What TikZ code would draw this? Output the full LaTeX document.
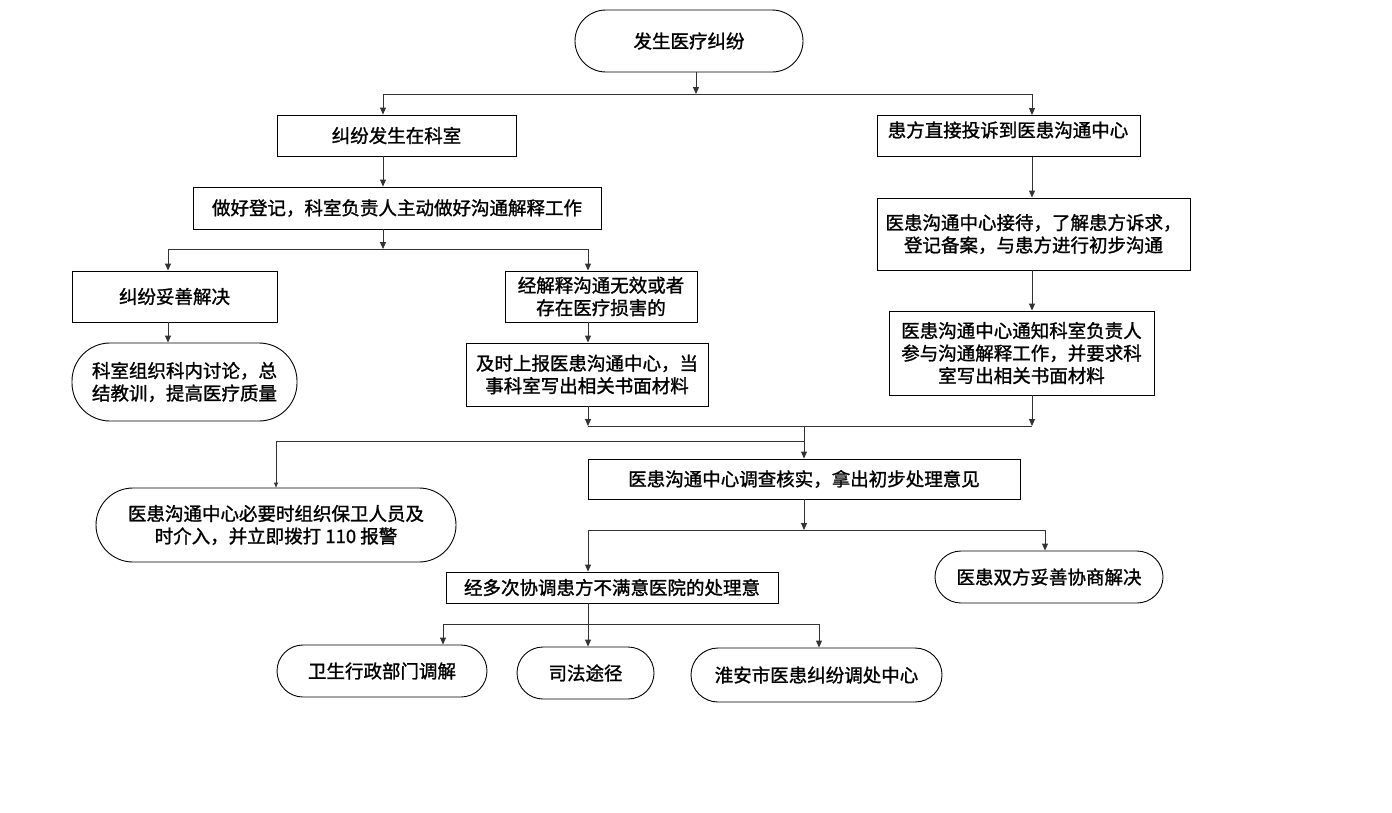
\documentclass[tikz,border=0pt]{standalone}
\usepackage{fontspec}
\newfontfamily\cjk{Noto Sans CJK SC}[FakeBold=1.3]
\usetikzlibrary{arrows.meta}
\tikzset{
  txt/.style={font=\cjk\fontsize{18.5}{22.5}\selectfont},
  box/.style={draw=black, line width=0.9pt, inner sep=0pt, align=center, txt},
  pill/.style={box, rounded corners=#1},
  conn/.style={draw=black!80, line width=0.9pt},
  arr/.style={conn, -{Triangle[length=7pt,width=6pt]}},
}
\begin{document}
\begin{tikzpicture}[x=1pt,y=-1pt]
\useasboundingbox (0,0) rectangle (1392,812);
% nodes
\node[pill=31pt, minimum width=228pt, minimum height=62pt] (top) at (689,41) {发生医疗纠纷};
\node[box, minimum width=239pt, minimum height=41pt] (A) at (396.5,135.5) {纠纷发生在科室};
\node[box, minimum width=263pt, minimum height=41pt, anchor=north west] (B) at (877,115) {};
\node[txt] (Bt) at (1008,130) {患方直接投诉到医患沟通中心};
\node[box, minimum width=408pt, minimum height=42pt] (C) at (397,208) {做好登记，科室负责人主动做好沟通解释工作};
\node[box, minimum width=205pt, minimum height=51pt] (D) at (174.5,296.5) {纠纷妥善解决};
\node[box, minimum width=192pt, minimum height=51pt] (E) at (601,296.5) {经解释沟通无效或者\\存在医疗损害的};
\node[pill=38pt, minimum width=225pt, minimum height=78pt] (F) at (184.5,382) {科室组织科内讨论，总\\结教训，提高医疗质量};
\node[box, minimum width=242pt, minimum height=63pt] (G) at (587,374.5) {及时上报医患沟通中心，当\\事科室写出相关书面材料};
\node[box, minimum width=313pt, minimum height=72pt] (H) at (1033.5,234) {医患沟通中心接待，了解患方诉求，\\登记备案，与患方进行初步沟通};
\node[box, minimum width=265pt, minimum height=84pt] (I) at (1021.5,353) {医患沟通中心通知科室负责人\\参与沟通解释工作，并要求科\\室写出相关书面材料};
\node[pill=37pt, minimum width=360pt, minimum height=74pt] (J) at (276,525) {医患沟通中心必要时组织保卫人员及\\时介入，并立即拨打 110 报警};
\node[box, minimum width=432pt, minimum height=40pt] (K) at (804,479) {医患沟通中心调查核实，拿出初步处理意见};
\node[box, minimum width=332pt, minimum height=31pt] (L) at (612,587.5) {经多次协调患方不满意医院的处理意};
\node[pill=26pt, minimum width=228pt, minimum height=52pt] (M) at (1049,577) {医患双方妥善协商解决};
\node[pill=26pt, minimum width=210pt, minimum height=52pt] (N) at (382,671) {卫生行政部门调解};
\node[pill=26pt, minimum width=137pt, minimum height=52pt] (O) at (585.5,673) {司法途径};
\node[pill=27pt, minimum width=251pt, minimum height=54pt] (P) at (816.5,675) {淮安市医患纠纷调处中心};
% junction coordinates
\coordinate (t1) at (696,94);
\coordinate (l1) at (383,94);
\coordinate (r1) at (1032,94);
\coordinate (c2) at (383,249);
\coordinate (l2) at (168,249);
\coordinate (r2) at (588,249);
\coordinate (m3) at (804,426);
\coordinate (l3) at (588,426);
\coordinate (r3) at (1032,426);
\coordinate (s4) at (804,441);
\coordinate (l4) at (276,441);
\coordinate (c5) at (804,530);
\coordinate (l5) at (588,530);
\coordinate (r5) at (1045,530);
\coordinate (c6) at (588,624);
\coordinate (l6) at (443,624);
\coordinate (r6) at (819,624);
% connectors
\draw[arr] (top.south -| t1) -- (t1);
\draw[conn] (l1) -- (r1);
\draw[arr] (l1) -- (l1 |- A.north);
\draw[arr] (r1) -- (r1 |- B.north);
\draw[arr] (A.south -| l1) -- (l1 |- C.north);
\draw[arr] (C.south -| c2) -- (c2);
\draw[conn] (l2) -- (r2);
\draw[arr] (l2) -- (l2 |- D.north);
\draw[arr] (r2) -- (r2 |- E.north);
\draw[arr] (D.south -| l2) -- (l2 |- F.north);
\draw[arr] (E.south -| r2) -- (r2 |- G.north);
\draw[arr] (G.south -| l3) -- (l3);
\draw[arr] (B.south -| r1) -- (r1 |- H.north);
\draw[arr] (H.south -| r1) -- (r1 |- I.north);
\draw[arr] (I.south -| r3) -- (r3);
\draw[conn] (l3) -- (r3);
\draw[arr] (m3) -- (m3 |- K.north);
\draw[conn, line width=0.6pt] (s4) -- (l4);
\draw[-{Triangle[length=5pt,width=4pt]}, draw=black!80, line width=0.6pt] (l4) -- (l4 |- J.north);
\draw[arr] (K.south -| c5) -- (c5);
\draw[conn] (l5) -- (r5);
\draw[arr] (l5) -- (l5 |- L.north);
\draw[arr] (r5) -- (r5 |- M.north);
\draw[arr] (L.south -| c6) -- (c6 |- O.north);
\draw[conn] (l6) -- (r6);
\draw[arr] (l6) -- (l6 |- N.north);
\draw[arr] (r6) -- (r6 |- P.north);
\end{tikzpicture}
\end{document}
